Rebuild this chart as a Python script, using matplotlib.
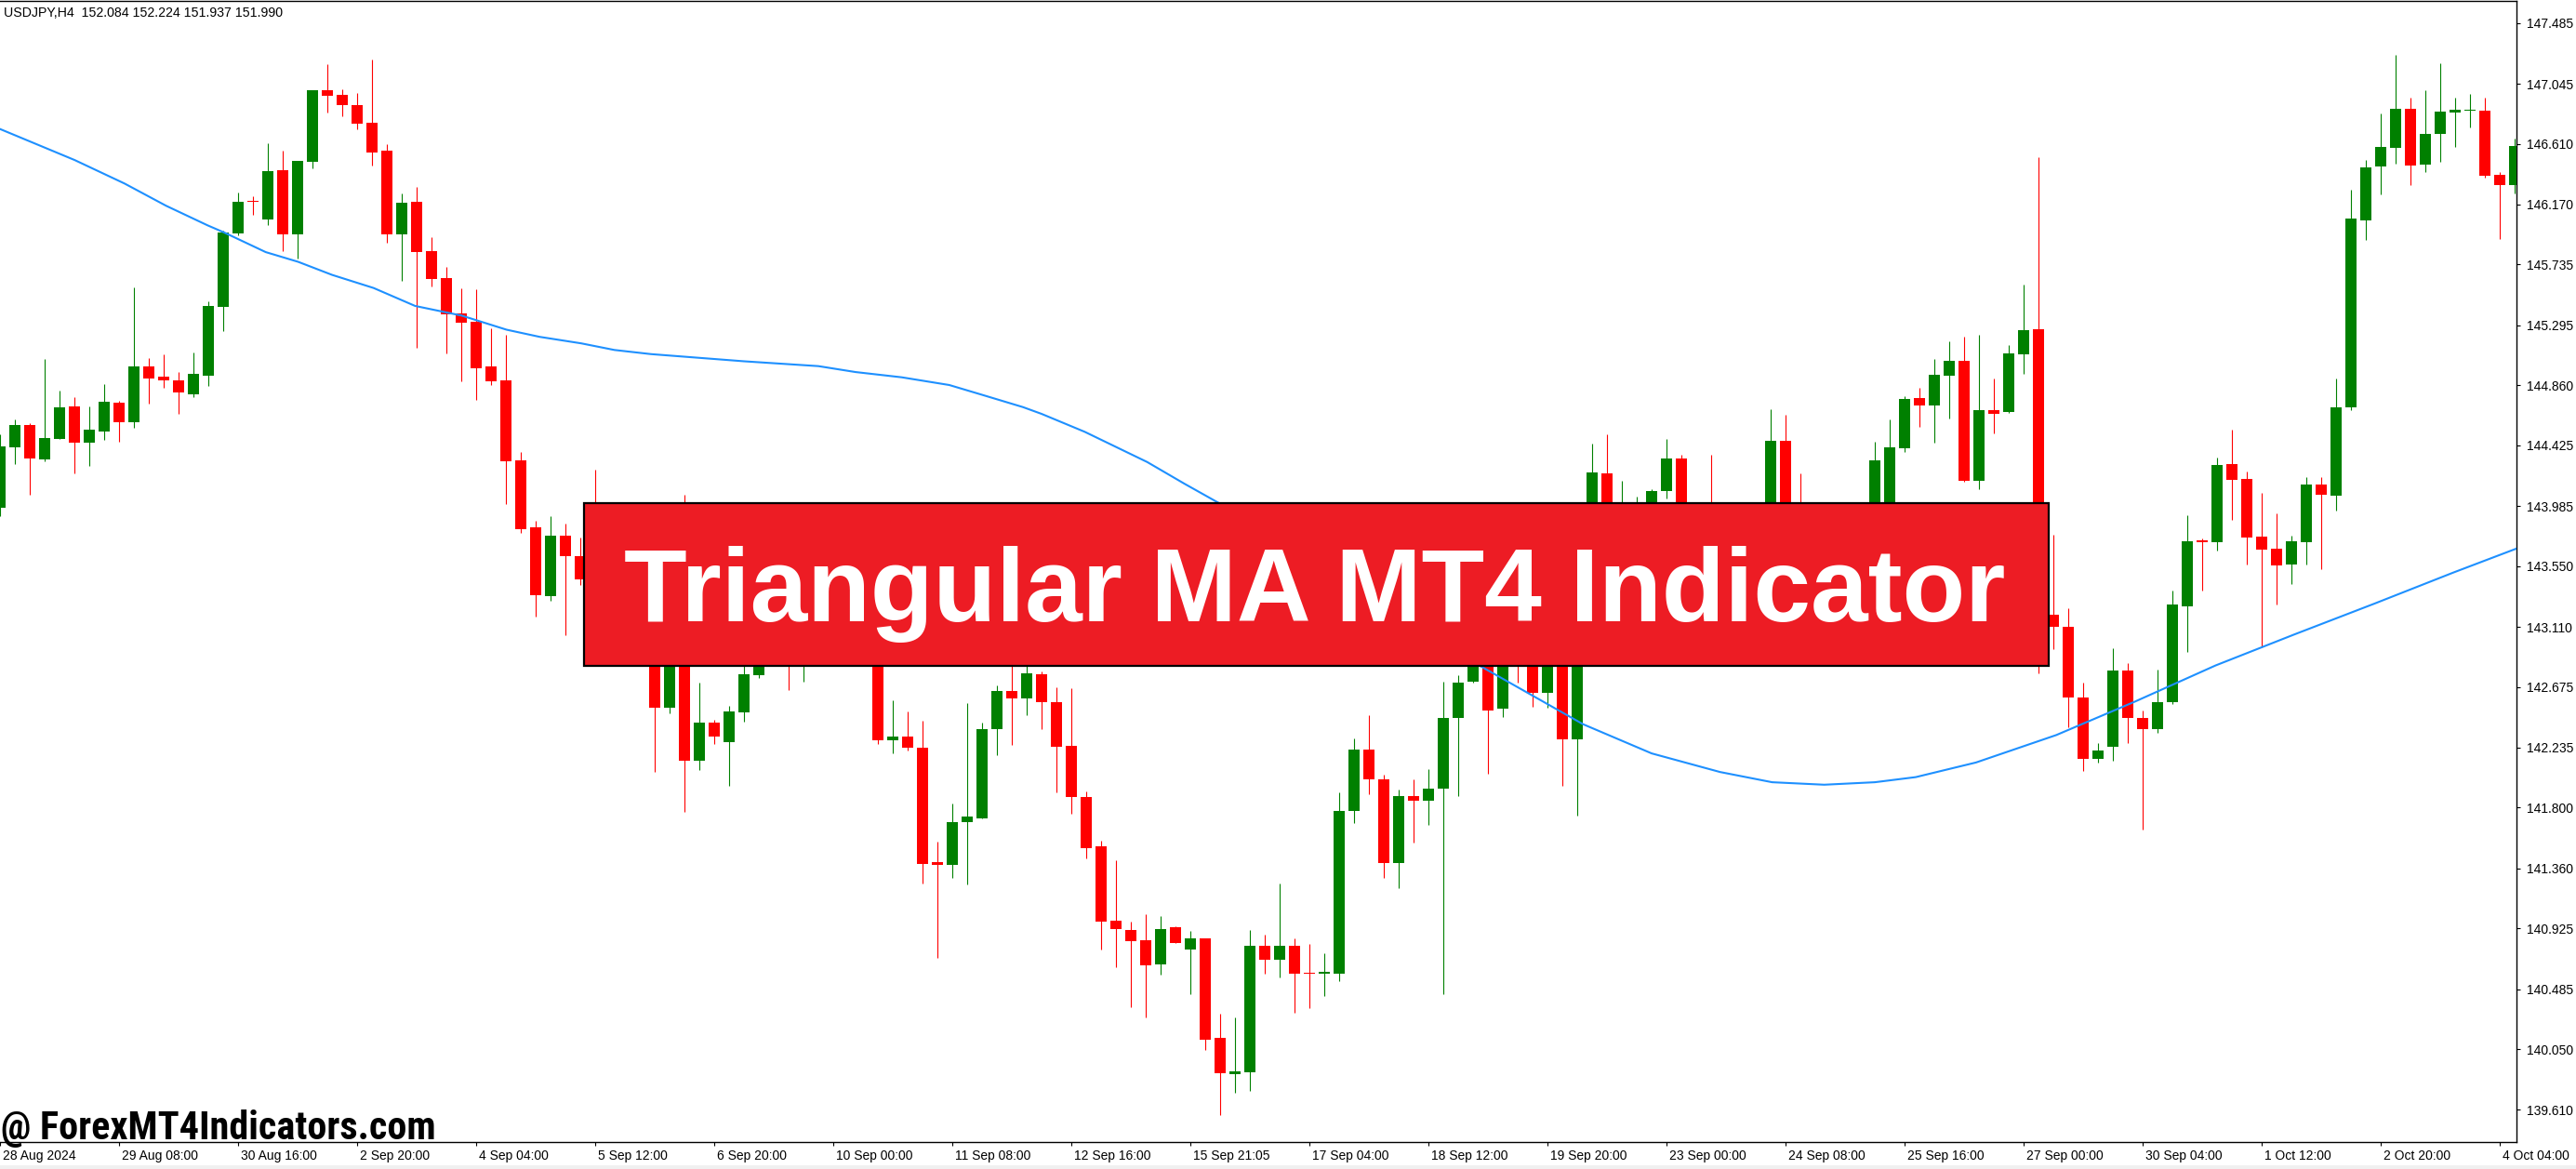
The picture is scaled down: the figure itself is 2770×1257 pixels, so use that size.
import numpy as np
import matplotlib
matplotlib.use('Agg')
import matplotlib.pyplot as plt
from matplotlib import font_manager as fm
from matplotlib.patches import Rectangle
from matplotlib.transforms import ScaledTranslation

# H4 candles, 28 Aug 2024 00:00 -> 4 Oct 2024 08:00
opens = [143.970, 144.412, 144.573, 144.325, 144.474, 144.708, 144.441, 144.528, 144.734, 144.594,
         144.996, 144.923, 144.897, 144.797, 144.932, 145.431, 145.963, 146.199, 146.064, 146.419,
         145.956, 146.480, 146.998, 146.965, 146.889, 146.761, 146.561, 145.956, 146.190, 145.833,
         145.636, 145.381, 145.320, 144.996, 144.897, 144.315, 143.831, 143.334, 143.771, 143.620,
         143.600, 143.350, 143.500, 143.200, 143.300, 142.522, 142.950, 142.140, 142.417, 142.275,
         142.492, 142.763, 143.050, 143.300, 143.000, 143.350, 143.550, 143.400, 143.150, 143.050,
         142.290, 142.312, 142.236, 141.403, 141.388, 141.695, 141.725, 142.369, 142.645, 142.591,
         142.766, 142.567, 142.248, 141.875, 141.520, 140.979, 140.913, 140.837, 140.666, 140.934,
         140.774, 140.852, 140.130, 139.872, 139.884, 140.798, 140.699, 140.801, 140.606, 140.594,
         140.600, 141.776, 142.218, 142.008, 141.396, 141.886, 141.849, 141.937, 142.448, 142.711,
         143.050, 142.514, 143.050, 142.950, 142.635, 142.950, 142.295, 143.500, 144.223, 143.650,
         143.750, 143.950, 144.092, 144.329, 143.700, 143.850, 143.550, 143.700, 143.850, 143.900,
         144.457, 143.950, 143.750, 143.550, 143.700, 143.800, 143.900, 143.980, 144.401, 144.768,
         144.715, 144.932, 145.037, 144.169, 144.682, 144.667, 145.085, 145.265, 143.197, 143.111,
         142.599, 142.150, 142.243, 142.793, 142.449, 142.371, 142.561, 143.261, 143.735, 143.721,
         144.289, 144.184, 143.765, 143.679, 143.560, 143.721, 144.139, 144.057, 144.700, 146.058,
         146.447, 146.578, 146.862, 146.458, 146.679, 146.839, 146.851, 146.851, 146.383, 146.312]
highs = [144.502, 144.613, 144.585, 145.050, 144.821, 144.774, 144.708, 144.868, 144.750, 145.570,
         145.057, 145.083, 144.958, 145.098, 145.471, 145.979, 146.256, 146.230, 146.615, 146.561,
         146.485, 146.998, 147.187, 147.007, 146.977, 147.220, 146.608, 146.251, 146.298, 145.934,
         145.717, 145.563, 145.556, 145.270, 145.228, 144.377, 143.878, 143.912, 143.861, 143.756,
         144.246, 143.600, 143.700, 143.450, 143.400, 143.100, 144.065, 142.703, 142.438, 142.537,
         142.850, 143.200, 143.400, 143.500, 143.450, 143.700, 143.800, 143.600, 143.350, 143.150,
         142.576, 142.495, 142.429, 141.553, 141.830, 142.558, 142.417, 142.685, 142.850, 142.850,
         142.787, 142.672, 142.663, 141.920, 141.559, 141.418, 140.973, 141.027, 141.012, 140.943,
         140.907, 140.852, 140.305, 140.281, 140.913, 140.882, 141.249, 140.852, 140.813, 140.747,
         141.911, 142.299, 142.468, 142.038, 141.930, 142.003, 142.076, 142.715, 142.762, 143.200,
         143.150, 143.000, 143.100, 143.050, 143.000, 143.050, 143.600, 144.439, 144.504, 144.168,
         144.055, 144.106, 144.471, 144.358, 143.950, 144.355, 143.800, 143.950, 143.980, 144.687,
         144.647, 144.220, 143.900, 143.850, 143.950, 143.980, 144.450, 144.614, 144.778, 144.842,
         145.048, 145.179, 145.213, 145.224, 144.906, 145.153, 145.590, 146.510, 143.777, 143.242,
         142.707, 142.270, 142.954, 142.849, 142.505, 142.800, 143.373, 143.922, 143.747, 144.338,
         144.540, 144.233, 144.083, 143.934, 143.773, 144.195, 144.195, 144.906, 146.278, 146.495,
         146.828, 147.255, 146.944, 147.000, 147.195, 146.944, 146.974, 146.944, 146.402, 146.645]
lows = [143.911, 144.289, 144.069, 144.308, 144.470, 144.223, 144.277, 144.466, 144.448, 144.549,
        144.727, 144.845, 144.656, 144.774, 144.856, 145.254, 145.944, 146.097, 146.022, 145.833,
        145.778, 146.435, 146.839, 146.811, 146.717, 146.454, 145.892, 145.617, 145.133, 145.573,
        145.093, 144.892, 144.757, 144.864, 144.001, 143.793, 143.186, 143.298, 143.049, 143.410,
        143.200, 143.050, 143.100, 142.950, 142.056, 142.483, 141.770, 142.071, 142.260, 141.959,
        142.426, 142.742, 142.950, 142.654, 142.715, 143.200, 143.250, 143.000, 142.900, 142.260,
        142.197, 142.212, 141.253, 140.708, 141.289, 141.243, 141.725, 142.182, 142.257, 142.471,
        142.366, 141.911, 141.755, 141.430, 140.774, 140.642, 140.356, 140.281, 140.588, 140.816,
        140.446, 140.046, 139.574, 139.733, 139.748, 140.597, 140.567, 140.317, 140.350, 140.437,
        140.546, 141.689, 141.896, 141.290, 141.217, 141.546, 141.674, 140.450, 141.882, 142.704,
        142.046, 142.459, 142.708, 142.532, 142.521, 141.955, 141.740, 143.400, 143.600, 143.400,
        143.550, 143.800, 144.037, 143.600, 143.450, 143.400, 143.250, 143.500, 143.600, 143.800,
        143.800, 143.600, 143.400, 143.350, 143.500, 143.550, 143.850, 143.900, 144.375, 144.562,
        144.446, 144.622, 144.158, 144.109, 144.513, 144.663, 144.943, 142.775, 142.950, 142.382,
        142.064, 142.127, 142.139, 142.270, 141.641, 142.344, 142.550, 142.931, 143.373, 143.665,
        143.885, 143.560, 142.961, 143.272, 143.418, 143.560, 143.530, 143.952, 144.682, 145.916,
        146.241, 146.469, 146.308, 146.402, 146.477, 146.589, 146.731, 146.364, 145.923, 146.252]
closes = [144.419, 144.573, 144.332, 144.478, 144.700, 144.441, 144.537, 144.741, 144.594, 144.996,
          144.911, 144.899, 144.805, 144.942, 145.436, 145.967, 146.190, 146.190, 146.412, 145.956,
          146.485, 146.998, 146.960, 146.887, 146.757, 146.549, 145.956, 146.182, 145.828, 145.632,
          145.376, 145.315, 144.986, 144.892, 144.311, 143.817, 143.341, 143.770, 143.620, 143.455,
          143.350, 143.500, 143.200, 143.300, 142.522, 142.950, 142.140, 142.417, 142.312, 142.495,
          142.766, 143.050, 143.300, 143.000, 143.350, 143.550, 143.400, 143.150, 143.050, 142.290,
          142.312, 142.236, 141.394, 141.388, 141.695, 141.734, 142.369, 142.645, 142.591, 142.772,
          142.567, 142.242, 141.875, 141.508, 140.973, 140.919, 140.831, 140.660, 140.919, 140.816,
          140.852, 140.121, 139.878, 139.887, 140.801, 140.699, 140.801, 140.600, 140.597, 140.612,
          141.776, 142.218, 142.008, 141.400, 141.882, 141.849, 141.937, 142.452, 142.704, 143.050,
          142.503, 142.900, 142.900, 142.631, 142.950, 142.295, 143.500, 144.230, 143.700, 143.900,
          143.950, 144.092, 144.329, 143.700, 143.850, 143.550, 143.700, 143.850, 143.900, 144.461,
          143.950, 143.750, 143.550, 143.700, 143.800, 143.900, 144.318, 144.409, 144.764, 144.715,
          144.936, 145.037, 144.169, 144.682, 144.656, 145.089, 145.257, 143.200, 143.111, 142.599,
          142.150, 142.213, 142.793, 142.449, 142.371, 142.561, 143.272, 143.728, 143.721, 144.282,
          144.177, 143.758, 143.672, 143.556, 143.728, 144.139, 144.065, 144.700, 146.065, 146.439,
          146.585, 146.862, 146.454, 146.682, 146.843, 146.854, 146.854, 146.379, 146.312, 146.596]

# triangular MA line (bar index, value)
ma_pos = [0, 5.02, 8.37, 11.16, 13.95, 15.07, 17.86, 20.03, 22.32, 25.11, 27.9, 31.03, 34.04, 36.27,
          39.06, 41.29, 43.75, 50, 55, 57.5, 60.6, 63.8, 66.1, 68.75, 70, 72.9, 77.1, 79.6, 81.9,
          86, 90, 95, 99.4, 106.4, 111, 115.6, 119.1, 122.6, 126, 128.75, 132.8, 138.2, 143.5,
          148.9, 154.2, 159.6, 164.9, 169.2]
ma_val = [146.717, 146.492, 146.322, 146.161, 146.019, 145.967, 145.825, 145.755, 145.660, 145.565,
          145.435, 145.365, 145.263, 145.211, 145.164, 145.116, 145.086, 145.034, 144.999, 144.956,
          144.918, 144.862, 144.788, 144.702, 144.653, 144.523, 144.304, 144.147, 144.008, 143.740,
          143.470, 143.130, 142.831, 142.404, 142.193, 142.058, 141.984, 141.966, 141.984, 142.021,
          142.127, 142.326, 142.569, 142.830, 143.055, 143.279, 143.504, 143.680]

price_ticks = [147.485, 147.045, 146.610, 146.170, 145.735, 145.295, 144.860, 144.425, 143.985,
               143.550, 143.110, 142.675, 142.235, 141.800, 141.360, 140.925, 140.485, 140.050, 139.610]
date_labels = ['28 Aug 2024', '29 Aug 08:00', '30 Aug 16:00', '2 Sep 20:00', '4 Sep 04:00',
               '5 Sep 12:00', '6 Sep 20:00', '10 Sep 00:00', '11 Sep 08:00', '12 Sep 16:00',
               '15 Sep 21:05', '17 Sep 04:00', '18 Sep 12:00', '19 Sep 20:00', '23 Sep 00:00',
               '24 Sep 08:00', '25 Sep 16:00', '27 Sep 00:00', '30 Sep 04:00', '1 Oct 12:00',
               '2 Oct 20:00', '4 Oct 04:00']
date_step = 8  # one label every 8 bars


def condensed_bold_font():
    # look for a narrow/condensed bold face among the installed fonts
    prefs = ['Liberation', 'Roboto', 'Open Sans', 'Noto Sans', 'DejaVu']
    found = []
    for f in fm.fontManager.ttflist:
        st = f.stretch if isinstance(f.stretch, int) else fm.stretch_dict.get(f.stretch, 500)
        wt = f.weight if isinstance(f.weight, int) else fm.weight_dict.get(f.weight, 400)
        narrow = st < 500 or 'Narrow' in f.name or 'Condensed' in f.name
        if narrow and wt >= 700 and f.style == 'normal' and 'CJK' not in f.name:
            rank = next((i for i, p in enumerate(prefs) if p in f.name), len(prefs))
            found.append((rank, abs(wt - 700), st, f.fname))
    if found:
        found.sort()
        return fm.FontProperties(fname=found[0][3])
    return fm.FontProperties(family='Liberation Sans', weight='bold')


def fit_width(t, target_px):
    r = fig.canvas.get_renderer()
    w = t.get_window_extent(renderer=r).width
    t.set_fontsize(t.get_fontsize() * target_px / w)


W, H, DPI = 2770, 1257, 100
fig = plt.figure(figsize=(W / DPI, H / DPI), dpi=DPI)
fig.patch.set_facecolor('white')
ax = fig.add_axes([0, 29 / H, 2706 / W, 1227 / H])

x = np.arange(len(opens))
o = np.array(opens)
c = np.array(closes)
cols = np.where(c >= o, '#008000', '#FF0000')

# wicks + bodies
ax.vlines(x, lows, highs, colors=cols, lw=0.8, zorder=2)
body = np.maximum(np.abs(c - o), 0.007)
ax.bar(x, body, bottom=np.minimum(o, c), width=0.69, color=cols, linewidth=0, zorder=3)

# the MA
ax.plot(ma_pos, ma_val, color='#1E90FF', lw=1.5, zorder=4)

ax.set_xlim(0, 2706 / 16)
ax.set_ylim(139.377, 147.645)

for s in ['top', 'right', 'bottom']:
    ax.spines[s].set_color('black')
    ax.spines[s].set_linewidth(1.0)
ax.spines['left'].set_visible(False)

ax.yaxis.tick_right()
ax.set_yticks(price_ticks, [f'{v:.3f}' for v in price_ticks])
ax.tick_params(axis='y', direction='out', length=3, width=0.8, pad=5,
               labelsize=10, labelcolor='black')
ax.set_xticks(np.arange(len(date_labels)) * date_step, date_labels)
ax.tick_params(axis='x', direction='out', length=3, width=0.8, pad=3,
               labelsize=10, labelcolor='black')
for lab in ax.get_yticklabels() + ax.get_xticklabels():
    lab.set_family('Liberation Sans')
off = ScaledTranslation(2 / 72, 0, fig.dpi_scale_trans)
for lab in ax.get_xticklabels():
    lab.set_horizontalalignment('left')
    lab.set_transform(lab.get_transform() + off)

# header line top-left
fig.text(4 / W, 1 - 18 / H, 'USDJPY,H4  152.084 152.224 151.937 151.990',
         family='Liberation Sans', fontsize=10.2, color='black', va='baseline')

# red banner
fig.add_artist(Rectangle((628 / W, 1 - 716 / H), 1575 / W, 175 / H, transform=fig.transFigure,
                         facecolor='#ED1C24', edgecolor='black', lw=1.6, zorder=5))
title = fig.text(1414 / W, 1 - 668 / H, 'Triangular MA MT4 Indicator', ha='center', va='baseline',
                 family='Liberation Sans', fontweight='bold', fontsize=79, color='white', zorder=6)

# watermark
wm_font = condensed_bold_font()
wm_font.set_size(31)
wm = fig.text(1 / W, 1 - 1225 / H, '@ ForexMT4Indicators.com', ha='left', va='baseline',
              fontproperties=wm_font, color='black', zorder=6)

# grey strip at the very bottom
fig.add_artist(Rectangle((0, 0), 1, 4 / H, transform=fig.transFigure,
                         facecolor='#F0F0F0', edgecolor='none', zorder=0))

fig.canvas.draw()
fit_width(title, 1486)
fit_width(wm, 468)

fig.savefig('out.png', dpi=DPI)
